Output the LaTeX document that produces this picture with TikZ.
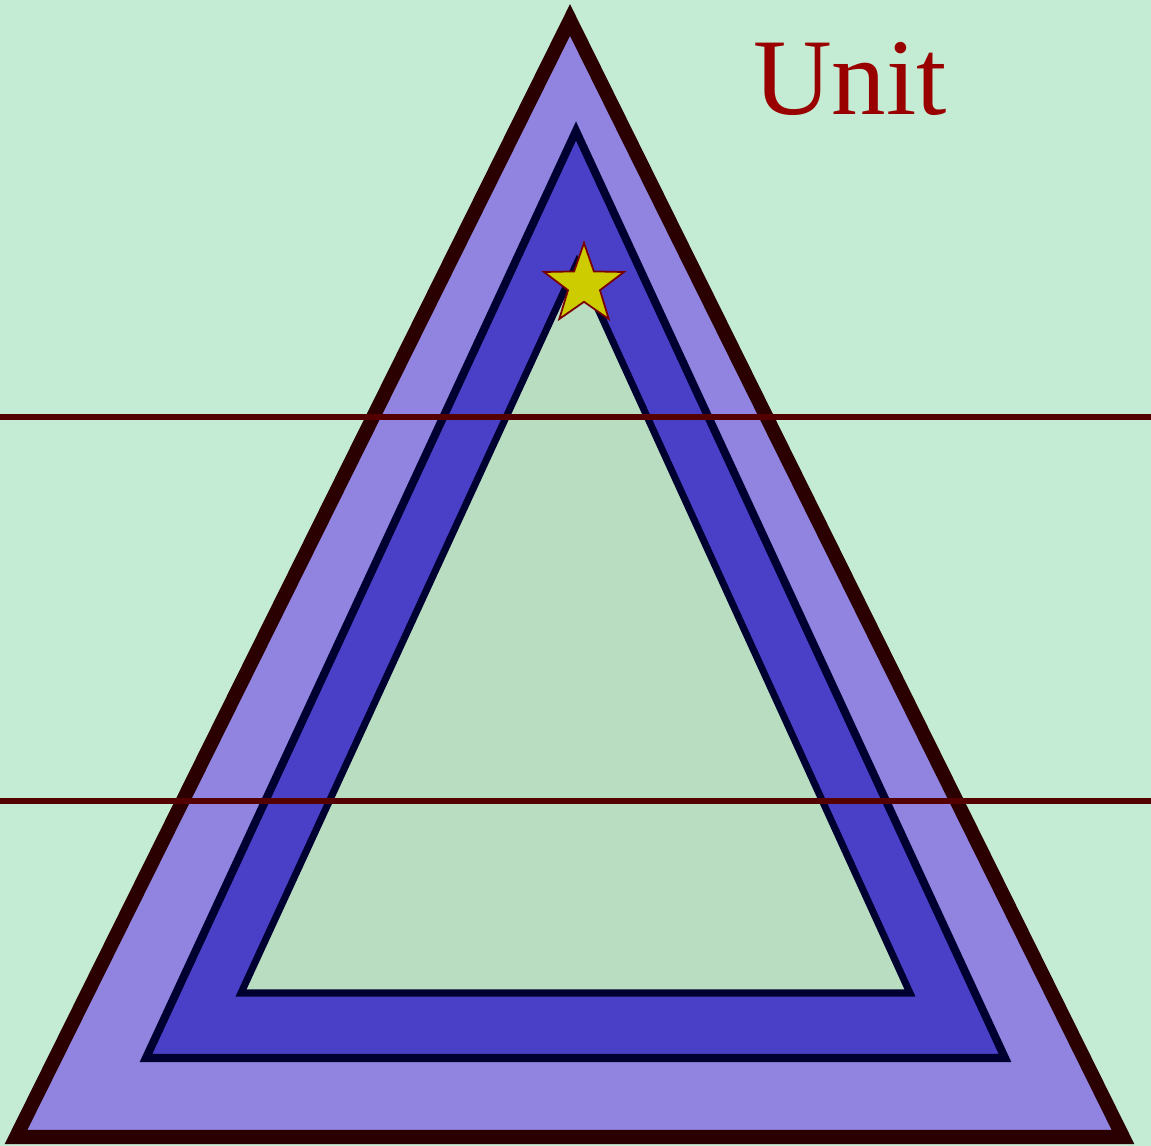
\documentclass[tikz,border=0pt]{standalone}
\usepackage{fontspec}
\setmainfont{Liberation Serif}
\usepackage{tikz}
\usetikzlibrary{shapes.geometric, positioning, calc}
\definecolor{bgmint}{HTML}{C4ECD4}
\definecolor{innermint}{HTML}{B8DDC0}
\definecolor{lavender}{HTML}{9084E0}
\definecolor{royal}{HTML}{4A40C8}
\definecolor{darkmaroon}{HTML}{2A0000}
\definecolor{navyline}{HTML}{000030}
\definecolor{rail}{HTML}{550000}
\definecolor{unitred}{HTML}{990000}
\definecolor{gold}{HTML}{CCCC00}
\tikzset{
	outertri/.style={draw=darkmaroon, fill=lavender, line width=4pt, line join=miter},
	middletri/.style={draw=navyline, fill=royal, line width=2.3pt, line join=miter},
	innertri/.style={draw=navyline, fill=innermint, line width=2pt, line join=miter}
}
\tikzset{
	railline/.style={draw=rail, line width=1.8pt}
}
\tikzset{
	goldstar/.style={star, star points=5, star point ratio=2.5, minimum size=0.84cm,
	  inner sep=0pt, fill=gold, draw=unitred!80!black, line width=0.5pt}
}

\begin{document}
\begin{tikzpicture}[x=0.01cm, y=-0.01cm]
      \fill[bgmint] (0,0) rectangle (1151,1146);
      \useasboundingbox (0,0) rectangle (1151,1146);
      % three nested triangles
      \draw[outertri] (570,20) -- (1123,1137) -- (16,1137) -- cycle;
      \draw[middletri] (576,131) -- (1005,1058) -- (146,1058) -- cycle;
      \draw[innertri] (577,263) -- (910,993) -- (241,993) -- cycle;
      \node[goldstar] (apexstar) at (584,285) {};
      % horizontal rails
      \foreach \y in {417,801} {
        \coordinate (railL\y) at (0,\y);
        \coordinate (railR\y) at (1151,\y);
        \draw[railline] (railL\y) -- (railR\y);
      }
      \node[text=unitred, font=\fontsize{31}{31}\selectfont, anchor=base] (unitlabel) at (850,115) {Unit};
    \end{tikzpicture}
\end{document}
